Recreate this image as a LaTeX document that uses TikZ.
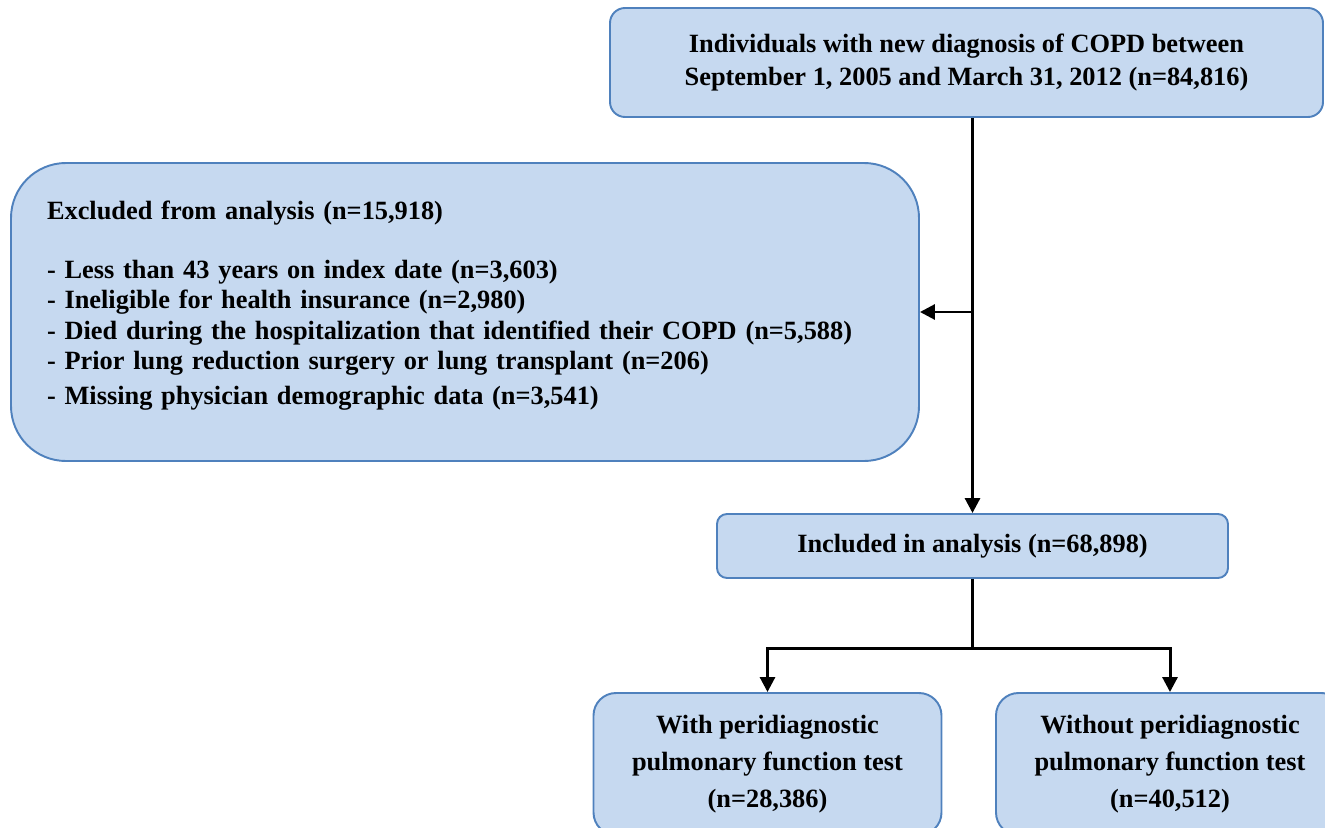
\documentclass[tikz,border=0pt]{standalone}
\usepackage{fontspec}
\setmainfont{Liberation Serif}
\usepackage{tikz}
\usetikzlibrary{arrows.meta, positioning}
\definecolor{boxfill}{RGB}{198,217,240}
\definecolor{boxline}{RGB}{79,129,189}
\tikzset{
  >={Triangle[width=3mm,length=3mm]},
  base/.style = {rectangle, draw=boxline, fill=boxfill, line width=1.1pt,
                 text centered, align=center, font=\fontsize{15}{19}\selectfont\bfseries},
  flow/.style = {line width=1.7pt},
}

\begin{document}
\begin{tikzpicture}
  \useasboundingbox (0,0) rectangle (26.5,-16.54);

  % boxes
  \node (total) [base, rounded corners=0.3cm, minimum width=14.26cm, minimum height=2.18cm]
    at (19.33,-1.25) {Individuals with new diagnosis of COPD between\\September 1, 2005 and March 31, 2012 (n=84,816)};
  \node (excl) [base, rounded corners=1.1cm, minimum width=18.16cm, minimum height=5.96cm,
    inner xsep=0.72cm, text width=16.72cm, align=left,
    font=\fontsize{15}{17.2}\selectfont\bfseries] at (9.3,-6.24)
    {Excluded from analysis (n=15,918)\\[0.57cm]
     - Less than 43 years on index date (n=3,603)\\
     - Ineligible for health insurance (n=2,980)\\
     - Died during the hospitalization that identified their COPD (n=5,588)\\
     - Prior lung reduction surgery or lung transplant (n=206)\\[0.1cm]
     - Missing physician demographic data (n=3,541)\\[-0.24cm]\mbox{}};
  \node (incl) [base, rounded corners=0.2cm, minimum width=10.22cm, minimum height=1.28cm]
    at (19.45,-10.92) {Included in analysis (n=68,898)};
  \node (withpft) [base, rounded corners=0.45cm, minimum width=6.96cm, minimum height=2.84cm,
    font=\fontsize{15}{21}\selectfont\bfseries]
    at (15.35,-15.28) {With peridiagnostic\\pulmonary function test\\(n=28,386)};
  \node (withoutpft) [base, rounded corners=0.45cm, minimum width=6.96cm, minimum height=2.84cm,
    font=\fontsize{15}{21}\selectfont\bfseries]
    at (23.4,-15.28) {Without peridiagnostic\\pulmonary function test\\(n=40,512)};

  % connectors
  \draw[flow, ->] (incl.north |- total.south) -- (incl.north);
  \draw[flow, ->] (incl.north |- excl.east) -- (excl.east);
  \draw[flow] (incl.south) -- ++(0,-1.4) coordinate (split);
  \draw[flow, ->] (split) -| (withpft.north);
  \draw[flow, ->] (split) -| (withoutpft.north);
\end{tikzpicture}
\end{document}
